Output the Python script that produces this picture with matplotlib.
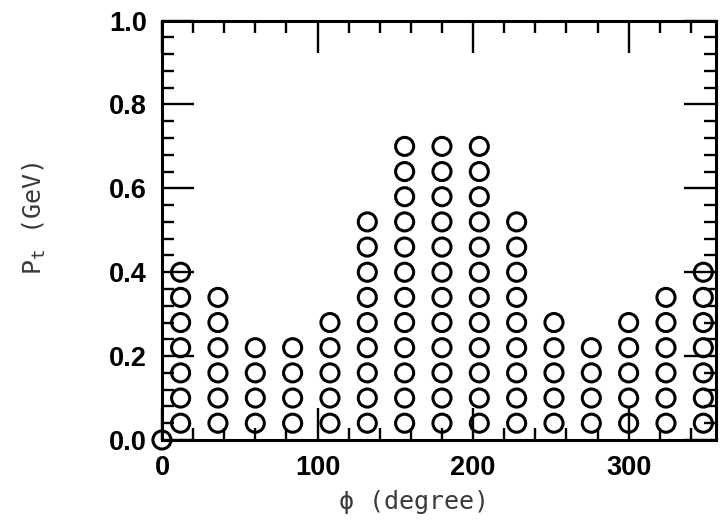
import numpy as np
import matplotlib
matplotlib.use('Agg')
import matplotlib.pyplot as plt
from matplotlib.ticker import MultipleLocator, FormatStrFormatter

# column centres in phi (degree) and number of filled pt-bins in each
phi_centers = [12, 36, 60, 84, 108, 132, 156, 180, 204, 228, 252, 276, 300, 324, 348]
bins_filled = [7, 6, 4, 4, 5, 9, 12, 12, 12, 9, 5, 4, 5, 6, 7]
# pt bin centres (GeV)
pt_rows = [0.04, 0.10, 0.16, 0.22, 0.28, 0.34, 0.40, 0.46, 0.52, 0.58, 0.64, 0.70]
# lone entry at the origin
extra_phi = [0]
extra_pt = [0.0]

phi_pts = []
pt_pts = []
for phi, n in zip(phi_centers, bins_filled):
    for pt in pt_rows[:n]:
        phi_pts.append(phi)
        pt_pts.append(pt)
phi_pts += extra_phi
pt_pts += extra_pt

plt.rcParams['mathtext.fontset'] = 'custom'
plt.rcParams['mathtext.rm'] = 'DejaVu Sans Mono'

fig = plt.figure(figsize=(7.23, 5.21), dpi=100)
ax = fig.add_axes([0.224, 0.1555, 0.766, 0.805])

ax.scatter(phi_pts, pt_pts, s=13**2, facecolors='none', edgecolors='black',
           linewidths=2.2, clip_on=False, zorder=3)

ax.set_xlim(0, 356)
ax.set_ylim(0, 1.0)

ax.xaxis.set_major_locator(MultipleLocator(100))
ax.xaxis.set_minor_locator(MultipleLocator(20))
ax.yaxis.set_major_locator(MultipleLocator(0.2))
ax.yaxis.set_minor_locator(MultipleLocator(0.04))
ax.yaxis.set_major_formatter(FormatStrFormatter('%.1f'))

ax.tick_params(which='both', direction='in', top=True, right=True, width=1.7, zorder=4)
ax.tick_params(which='major', length=23, pad=11)
ax.tick_params(which='minor', length=8.5)
for sp in ax.spines.values():
    sp.set_linewidth(2.2)

for lab in ax.get_xticklabels() + ax.get_yticklabels():
    lab.set_family('Liberation Sans')
    lab.set_fontweight('bold')
    lab.set_fontsize(19.5)

ax.set_xlabel('\u03d5 (degree)', family='DejaVu Sans Mono', fontsize=18,
              color='#3a3a3a', labelpad=6)
ax.xaxis.label.set_x(0.455)
ax.set_ylabel(r'$\mathrm{P_t}$ (GeV)', family='DejaVu Sans Mono', fontsize=18,
              color='#3a3a3a', labelpad=44)
ax.yaxis.label.set_y(0.53)

plt.savefig('out.png', dpi=100)
